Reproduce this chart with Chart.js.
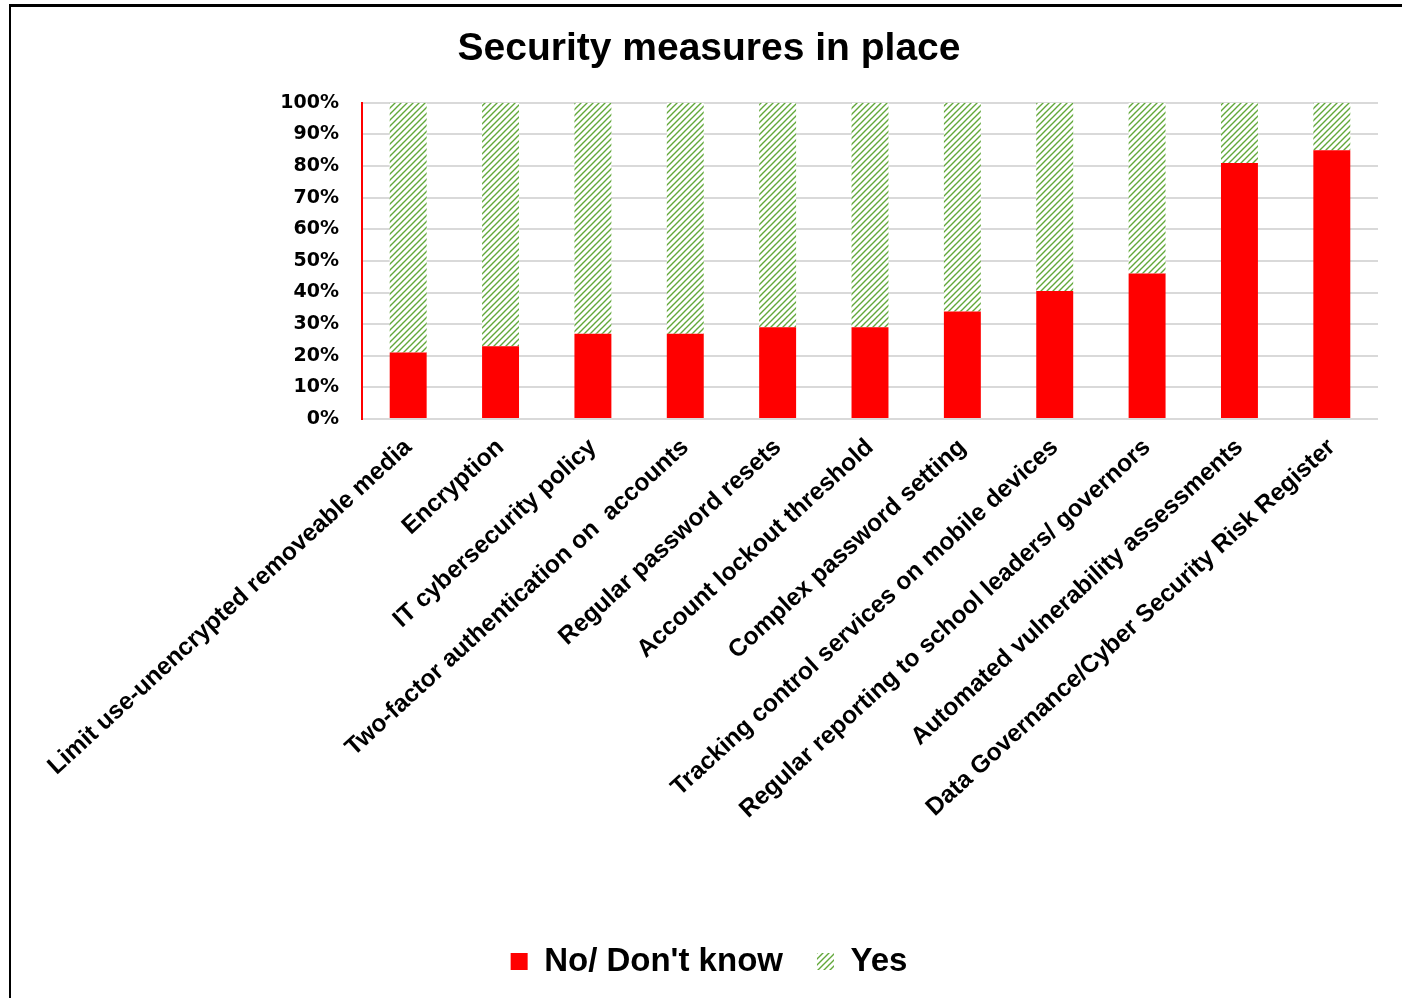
<!DOCTYPE html>
<html>
<head>
<meta charset="utf-8">
<script src="https://cdn.jsdelivr.net/npm/chart.js@4.4.1/dist/chart.umd.min.js"></script>
<style>
  html, body { margin: 0; padding: 0; background: #fff; overflow: hidden; }
  #frame {
    position: absolute; left: 9px; top: 4px;
    width: 1400px; height: 1000px;
    border-left: 2px solid #000; border-top: 3px solid #000;
  }
  #wrap { position: absolute; left: 0; top: 0; width: 1391px; height: 991px; }
</style>
</head>
<body>
<div id="frame"><div id="wrap"><canvas id="chart"></canvas></div></div>
<script>
// categories and values (% of respondents)
const categories = [
  'Limit use-unencrypted removeable media',
  'Encryption',
  'IT cybersecurity policy',
  'Two-factor authentication on  accounts',
  'Regular password resets',
  'Account lockout threshold',
  'Complex password setting',
  'Tracking control services on mobile devices',
  'Regular reporting to school leaders/ governors',
  'Automated vulnerability assessments',
  'Data Governance/Cyber Security Risk Register'
];
const noDontKnow = [21, 23, 27, 27, 29, 29, 34, 40.5, 46, 81, 85];
const yes = [79, 77, 73, 73, 71, 71, 66, 59.5, 54, 19, 15];
const yTicks = [0, 10, 20, 30, 40, 50, 60, 70, 80, 90, 100];

// light green diagonal hatch like the Excel pattern fill
function hatch() {
  const c = document.createElement('canvas');
  c.width = 6; c.height = 6;
  const g = c.getContext('2d');
  g.fillStyle = '#fff';
  g.fillRect(0, 0, 6, 6);
  g.strokeStyle = '#62a83a';
  g.lineWidth = 1.4;
  g.beginPath();
  g.moveTo(0, 6); g.lineTo(6, 0);
  g.moveTo(-3, 3); g.lineTo(3, -3);
  g.moveTo(3, 9); g.lineTo(9, 3);
  g.stroke();
  return g.createPattern(c, 'repeat');
}

const ctx = document.getElementById('chart').getContext('2d');
const pattern = hatch();

new Chart(ctx, {
  type: 'bar',
  data: {
    labels: categories,
    datasets: [
      { label: 'No/ Don\'t know', data: noDontKnow, backgroundColor: '#ff0000',
        barPercentage: 0.4, categoryPercentage: 1 },
      { label: 'Yes', data: yes, backgroundColor: pattern,
        barPercentage: 0.4, categoryPercentage: 1 }
    ]
  },
  options: {
    responsive: true,
    maintainAspectRatio: false,
    animation: false,
    layout: { padding: { left: 29, right: 24, top: 0, bottom: 10 } },
    plugins: {
      title: {
        display: true,
        text: 'Security measures in place',
        color: '#000',
        font: { family: 'Liberation Sans', size: 39, weight: 'bold' },
        padding: { top: 19, bottom: 30 }
      },
      legend: {
        position: 'bottom',
        labels: {
          color: '#000',
          font: { family: 'Liberation Sans', size: 33, weight: 'bold' },
          boxWidth: 17, boxHeight: 17, padding: 34
        }
      },
      tooltip: { enabled: false }
    },
    scales: {
      x: {
        stacked: true,
        grid: { display: false },
        border: { display: false },
        ticks: {
          color: '#000',
          font: { family: 'Liberation Sans', size: 24.5, weight: 'bold' },
          minRotation: 42.5, maxRotation: 42.5, autoSkip: false, padding: 6
        },
        afterFit: (s) => { s.height = 492; }
      },
      y: {
        stacked: true,
        min: 0, max: 100,
        afterBuildTicks: (s) => { s.ticks = yTicks.map(v => ({ value: v })); },
        grid: { color: '#d9d9d9', lineWidth: 2, drawTicks: false },
        border: { display: true, color: '#ff0000', width: 2 },
        ticks: {
          color: '#000',
          font: { family: 'DejaVu Sans', size: 19, weight: 'bold' },
          padding: 23,
          callback: v => v + '%'
        },
        afterFit: (s) => { s.width = 322; }
      }
    }
  }
});
</script>
</body>
</html>
